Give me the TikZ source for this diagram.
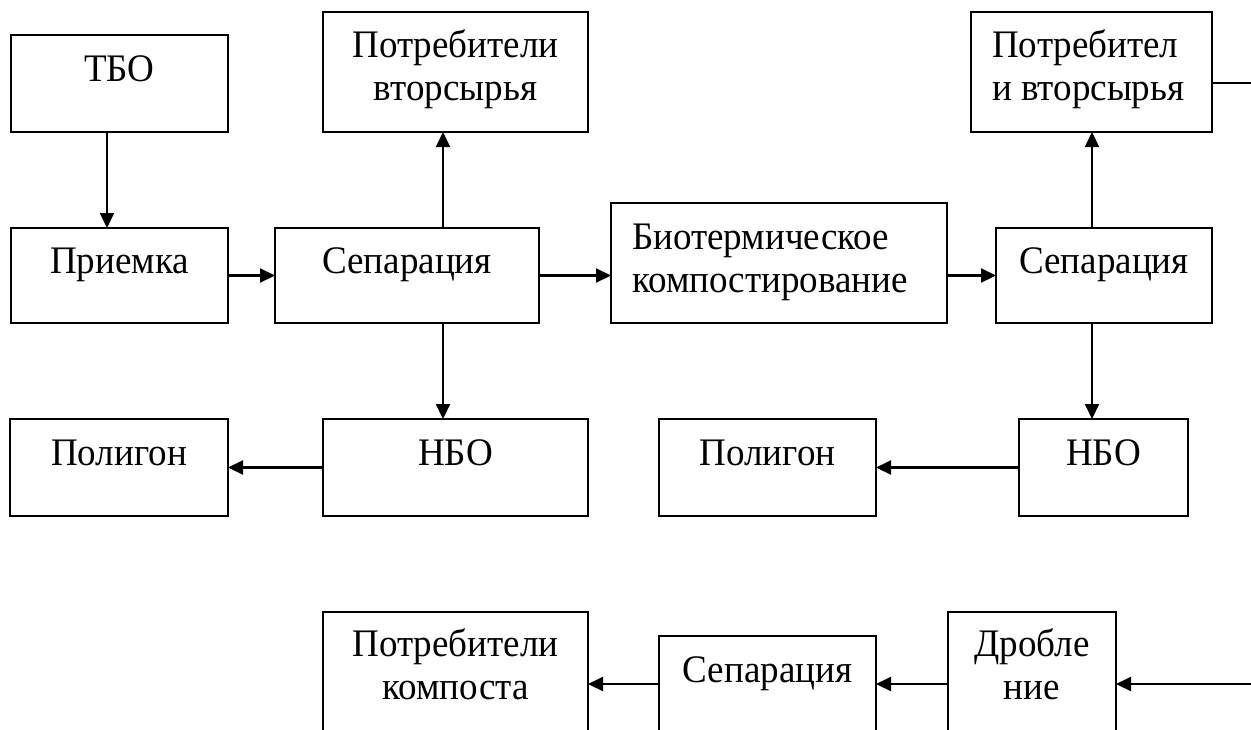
\documentclass[tikz,border=0pt]{standalone}
\usepackage{fontspec}
\setmainfont{Liberation Serif}[FakeStretch=0.95]
\usetikzlibrary{arrows.meta,calc}
\begin{document}
\begin{tikzpicture}[x=1pt,y=-1pt,
  box/.style={draw, line width=2.1pt, inner sep=0pt, outer sep=0pt, rectangle},
  lbl/.style={font=\fontsize{39}{43}\selectfont, inner sep=0pt, align=center, anchor=base},
  lbll/.style={font=\fontsize{39}{43}\selectfont, inner sep=0pt, align=left, anchor=base west},
  arr/.style={line width=2.1pt, -{Triangle[length=15pt,width=14pt]}},
  ln/.style={line width=2.1pt}]
\useasboundingbox (0,0) rectangle (1251,729);
\clip (0,0) rectangle (1251,729);
% boxes
\node[box, minimum width=217pt, minimum height=97pt]  (TBO)   at (119.5,83.5) {};
\node[box, minimum width=217pt, minimum height=95pt]  (Priem) at (119.5,275.5) {};
\node[box, minimum width=264pt, minimum height=95pt]  (Sep1)  at (407,275.5) {};
\node[box, minimum width=265pt, minimum height=120pt] (Potr1) at (455.5,72) {};
\node[box, minimum width=336pt, minimum height=120pt] (Bio)   at (779,263) {};
\node[box, minimum width=216pt, minimum height=95pt]  (Sep2)  at (1104,275.5) {};
\node[box, minimum width=241pt, minimum height=120pt] (Potr2) at (1091.5,72) {};
\node[box, minimum width=218pt, minimum height=97pt]  (Pol1)  at (119,467.5) {};
\node[box, minimum width=265pt, minimum height=97pt]  (NBO1)  at (455.5,467.5) {};
\node[box, minimum width=217pt, minimum height=97pt]  (Pol2)  at (767.5,467.5) {};
\node[box, minimum width=169pt, minimum height=97pt]  (NBO2)  at (1103.5,467.5) {};
\node[box, minimum width=265pt, minimum height=168pt] (PK)    at (455.5,696) {};
\node[box, minimum width=217pt, minimum height=144pt] (Sep3)  at (767.5,708) {};
\node[box, minimum width=168pt, minimum height=168pt] (Drob)  at (1032,696) {};
% labels (anchor base = baseline of the last line)
\node[lbl] (tTBO)   at ($(TBO.north)+(0,46)$)   {ТБО};
\node[lbl] (tPriem) at ($(Priem.north)+(0,45)$) {Приемка};
\node[lbl] (tSep1)  at ($(Sep1.north)+(0,45)$)  {Сепарация};
\node[lbl] (tPotr1) at ($(Potr1.north)+(0,88)$) {Потребители\\вторсырья};
\node[lbll] (tBio)  at ($(Bio.north west)+(21,89)$) {Биотермическое\\компостирование};
\node[lbl] (tSep2)  at ($(Sep2.north)+(0,45)$)  {Сепарация};
\node[lbll] (tPotr2) at ($(Potr2.north west)+(21,88)$) {Потребител\\и вторсырья};
\node[lbl] (tPol1)  at ($(Pol1.north)+(0,46)$)  {Полигон};
\node[lbl] (tNBO1)  at ($(NBO1.north)+(0,46)$)  {НБО};
\node[lbl] (tPol2)  at ($(Pol2.north)+(0,46)$)  {Полигон};
\node[lbl] (tNBO2)  at ($(NBO2.north)+(0,46)$)  {НБО};
\node[lbl] (tPK)    at ($(PK.north)+(0,87)$)    {Потребители\\компоста};
\node[lbl] (tSep3)  at ($(Sep3.north)+(0,46)$)  {Сепарация};
\node[lbl] (tDrob)  at ($(Drob.north)+(0,87)$)  {Дробле\\ние};
% helper coordinates
\coordinate (xa) at (107,0);
\coordinate (xb) at (443,0);
\coordinate (xc) at (1092,0);
\coordinate (yb) at (0,684);
\coordinate (e1) at (1265,83);
\coordinate (e2) at (1265,684);
% connectors
\draw[arr] (TBO.south -| xa) -- (Priem.north -| xa);
\draw[arr] (Priem.east) -- (Sep1.west);
\draw[arr] (Sep1.north -| xb) -- (Potr1.south -| xb);
\draw[arr] (Sep1.south -| xb) -- (NBO1.north -| xb);
\draw[arr] (Sep1.east) -- (Bio.west |- Sep1.east);
\draw[arr] (Bio.east |- Sep2.west) -- (Sep2.west);
\draw[arr] (Sep2.north -| xc) -- (Potr2.south -| xc);
\draw[arr] (Sep2.south -| xc) -- (NBO2.north -| xc);
\draw[arr] (NBO1.west) -- (Pol1.east);
\draw[arr] (NBO2.west) -- (Pol2.east);
\draw[ln] (Potr2.east |- e1) -- (e1);
\draw[arr] (e2) -- (Drob.east |- e2);
\draw[arr] (Drob.west |- yb) -- (Sep3.east |- yb);
\draw[arr] (Sep3.west |- yb) -- (PK.east |- yb);
\end{tikzpicture}
\end{document}
